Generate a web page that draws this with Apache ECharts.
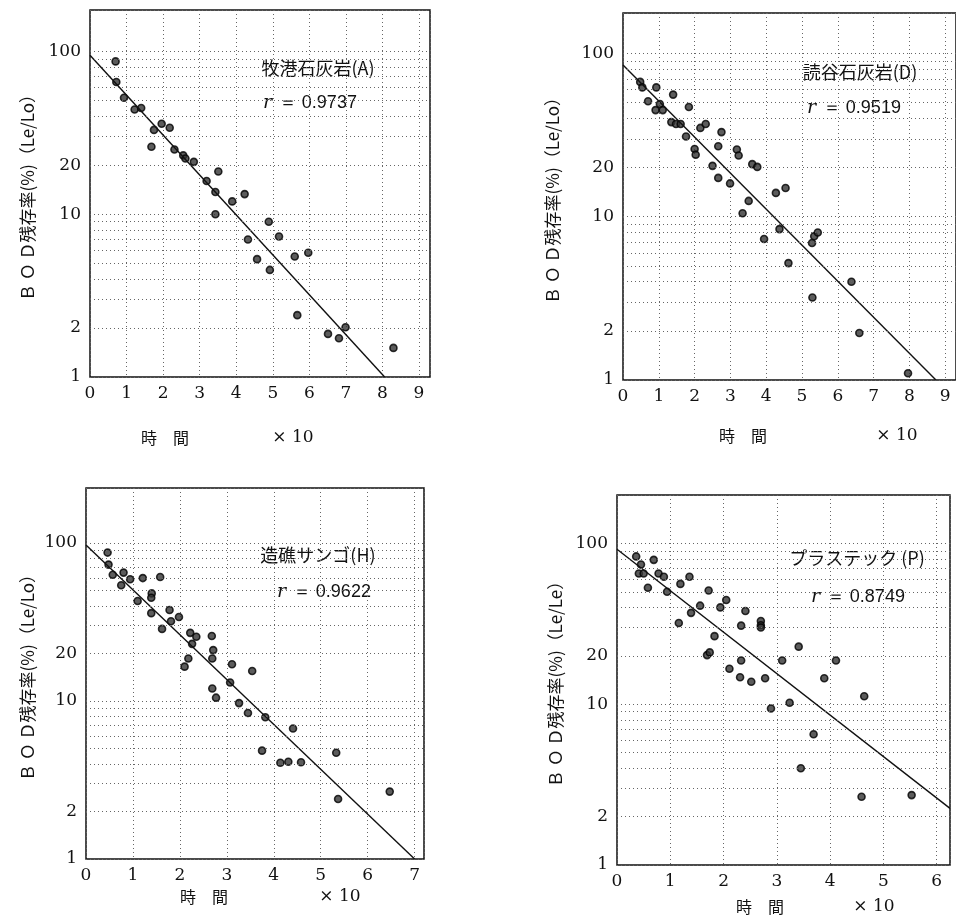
<!DOCTYPE html>
<html>
<head>
<meta charset="utf-8">
<script src="https://cdn.jsdelivr.net/npm/echarts@6/dist/echarts.min.js"></script>
<style>
  html, body { margin: 0; padding: 0; background: #fff; }
  #chart { width: 956px; height: 918px; }
</style>
</head>
<body>
<div id="chart"></div>
<script>
// BOD residual (%) vs time (x10), four media
const yLabels = [1, 2, 10, 20, 100]
const minorLines = [2, 3, 4, 5, 6, 7, 8, 9, 20, 30, 40, 50, 60, 70, 80, 90]

// 牧港石灰岩 (A)
const timeA = [0.70, 0.72, 0.93, 1.22, 1.40, 1.75, 1.68, 1.96, 2.18, 2.31, 2.55, 2.61, 2.84, 3.19, 3.51, 3.43, 3.43, 3.89, 4.23, 4.32, 4.57, 4.89, 4.92, 5.17, 5.60, 5.97, 5.67, 6.51, 6.81, 6.99, 8.30]
const bodA = [87, 65, 52, 44, 45, 33, 26, 36, 34, 25, 23, 22, 21, 16, 18.3, 13.7, 10, 12, 13.3, 7.0, 5.3, 9.0, 4.55, 7.3, 5.5, 5.8, 2.4, 1.84, 1.73, 2.02, 1.51]
const fitA = [[0, 95], [8.06, 1]]

// 読谷石灰岩 (D)
const timeD = [0.48, 0.54, 0.70, 0.93, 0.91, 1.03, 1.11, 1.40, 1.35, 1.48, 1.61, 1.84, 1.76, 2.00, 2.03, 2.16, 2.31, 2.75, 2.66, 2.50, 2.66, 2.99, 3.18, 3.23, 3.61, 3.75, 3.51, 3.34, 4.27, 4.54, 3.94, 4.37, 4.62, 5.28, 5.34, 5.44, 5.29, 6.38, 6.60, 7.96]
const bodD = [67, 62, 51, 62, 45, 49, 45, 56, 38, 37, 37, 47, 31, 26, 24, 35, 37, 33, 27, 20.5, 17.3, 16, 25.8, 23.7, 21, 20.2, 12.5, 10.5, 14, 15, 7.3, 8.4, 5.2, 6.9, 7.6, 8.0, 3.2, 4.0, 1.94, 1.1]
const fitD = [[0, 85], [8.74, 1]]

// 造礁サンゴ (H)
const timeH = [0.46, 0.48, 0.57, 0.75, 0.80, 0.94, 1.21, 1.10, 1.40, 1.39, 1.58, 1.39, 1.62, 1.78, 1.81, 1.98, 2.22, 2.35, 2.26, 2.18, 2.10, 2.68, 2.71, 2.69, 2.69, 2.77, 3.11, 3.07, 3.26, 3.45, 3.54, 3.82, 4.41, 3.75, 4.14, 4.31, 4.58, 5.33, 5.37, 6.47]
const bodH = [87, 73, 63, 54, 65, 59, 60, 43, 48, 45, 61, 36, 28.6, 37.7, 32, 34, 27, 25.5, 23, 18.6, 16.5, 25.8, 21, 18.6, 12, 10.5, 17.1, 13.1, 9.7, 8.4, 15.5, 7.9, 6.7, 4.85, 4.07, 4.13, 4.1, 4.7, 2.4, 2.67]
const fitH = [[0, 97], [7.0, 1]]

// プラステック (P)
const timeP = [0.36, 0.45, 0.41, 0.50, 0.69, 0.58, 0.78, 0.88, 0.94, 1.19, 1.36, 1.16, 1.39, 1.56, 1.72, 1.94, 2.05, 1.83, 1.69, 1.74, 2.11, 2.33, 2.41, 2.33, 2.31, 2.52, 2.70, 2.70, 2.70, 2.78, 2.89, 3.10, 3.24, 3.41, 3.45, 3.69, 3.89, 4.11, 4.64, 4.59, 5.53]
const bodP = [83, 74, 65, 65, 79, 53, 65, 62, 50, 56, 62, 32, 37, 41, 51, 40, 44.5, 26.5, 20.2, 21, 16.6, 30.8, 38, 18.7, 14.7, 13.8, 32.9, 31, 30, 14.5, 9.4, 18.7, 10.2, 22.8, 4.0, 6.5, 14.5, 18.7, 11.2, 2.66, 2.72]
const fitP = [[0, 92], [6.25, 2.25]]

const zip = (xs, ys) => xs.map((x, i) => [x, ys[i]])

const panels = [
  { grid: { left: 90, top: 10, width: 340, height: 367 }, xMax: 9.3, yMax: 180, pts: zip(timeA, bodA), fit: fitA, yName: 'Ｂ Ｏ Ｄ残存率(%)（Le/Lo）', nameGap: 54 },
  { grid: { left: 623, top: 13, width: 376, height: 367 }, xMax: 9.3, yMax: 177, pts: zip(timeD, bodD), fit: fitD, yName: 'Ｂ Ｏ Ｄ残存率(%)（Le/Lo）', nameGap: 62 },
  { grid: { left: 86, top: 488, width: 338, height: 371 }, xMax: 7.2, yMax: 223, pts: zip(timeH, bodH), fit: fitH, yName: 'Ｂ Ｏ Ｄ残存率(%)（Le/Lo）', nameGap: 50 },
  { grid: { left: 617, top: 495, width: 333, height: 370 }, xMax: 6.25, yMax: 200, pts: zip(timeP, bodP), fit: fitP, yName: 'Ｂ Ｏ Ｄ残存率(%)（Le/Le）', nameGap: 53 },
]

const labels = [
  { title: '牧港石灰岩(A)', r: '0.9737', tx: 318, ty: 68, rx: 310, ry: 103, nx: 165, ny: 438, mx: 293 },
  { title: '読谷石灰岩(D)', r: '0.9519', tx: 860, ty: 72, rx: 854, ry: 108, nx: 743, ny: 436, mx: 897 },
  { title: '造礁サンゴ(H)', r: '0.9622', tx: 318, ty: 555, rx: 324, ry: 592, nx: 204, ny: 897, mx: 340 },
  { title: 'プラステック (P)', r: '0.8749', tx: 857, ty: 558, rx: 858, ry: 597, nx: 760, ny: 907, mx: 874 },
]

const serif = 'DejaVu Serif'
const cjk = '"Noto Sans CJK JP", sans-serif'
const dotted = { color: '#666', width: 1, type: [1, 3] }

const chart = echarts.init(document.getElementById('chart'))

const graphics = []
labels.forEach(l => {
  graphics.push({
    type: 'text', x: l.tx, y: l.ty,
    style: { text: l.title, font: '18px ' + cjk, fill: '#111', align: 'center', verticalAlign: 'middle' }
  })
  graphics.push({
    type: 'text', x: l.rx, y: l.ry,
    style: {
      text: '{r|r}  {v|＝ ' + l.r + '}', align: 'center', verticalAlign: 'middle', fill: '#111',
      rich: {
        r: { fontFamily: serif, fontStyle: 'italic', fontSize: 19, fill: '#111' },
        v: { fontFamily: '"Liberation Sans"', fontSize: 18, fill: '#111' }
      }
    }
  })
  graphics.push({
    type: 'text', x: l.nx, y: l.ny,
    style: { text: '時　間', font: '16px ' + cjk, fill: '#111', align: 'center', verticalAlign: 'middle' }
  })
  graphics.push({
    type: 'text', x: l.mx, y: l.ny,
    style: { text: '× 10', font: '17px ' + serif, fill: '#111', align: 'center', verticalAlign: 'middle' }
  })
})

const option = {
  animation: false,
  backgroundColor: '#fff',
  grid: panels.map(p => ({ ...p.grid, show: true, borderColor: '#111', borderWidth: 1.5, backgroundColor: 'transparent' })),
  xAxis: panels.map((p, i) => ({
    type: 'value', gridIndex: i, min: 0, max: p.xMax, interval: 1,
    axisLine: { show: false }, axisTick: { show: false },
    axisLabel: { color: '#111', fontFamily: serif, fontSize: 17, margin: 8, showMaxLabel: false,
      formatter: v => (Number.isInteger(v) ? String(v) : '') },
    splitLine: { show: true, lineStyle: dotted },
  })),
  yAxis: panels.map((p, i) => ({
    type: 'log', gridIndex: i, min: 1, max: p.yMax, logBase: 10,
    name: p.yName, nameLocation: 'middle', nameRotate: 90, nameGap: p.nameGap,
    nameTextStyle: { fontFamily: cjk, fontSize: 17, color: '#111' },
    axisLine: { show: false }, axisTick: { show: false },
    axisLabel: { color: '#111', fontFamily: serif, fontSize: 17, margin: 9, customValues: yLabels },
    splitLine: { show: true, lineStyle: dotted },
  })),
  series: panels.flatMap((p, i) => [
    {
      type: 'scatter', xAxisIndex: i, yAxisIndex: i, data: p.pts,
      symbol: 'circle', symbolSize: 7,
      itemStyle: { color: '#333', borderColor: '#000', borderWidth: 1.6 },
      markLine: {
        silent: true, symbol: 'none', label: { show: false },
        lineStyle: dotted,
        data: minorLines.map(v => ({ yAxis: v })),
      },
    },
    {
      type: 'line', xAxisIndex: i, yAxisIndex: i, data: p.fit,
      symbol: 'none', lineStyle: { color: '#111', width: 1.4 },
    },
  ]),
  graphic: graphics,
}

chart.setOption(option)
</script>
</body>
</html>
